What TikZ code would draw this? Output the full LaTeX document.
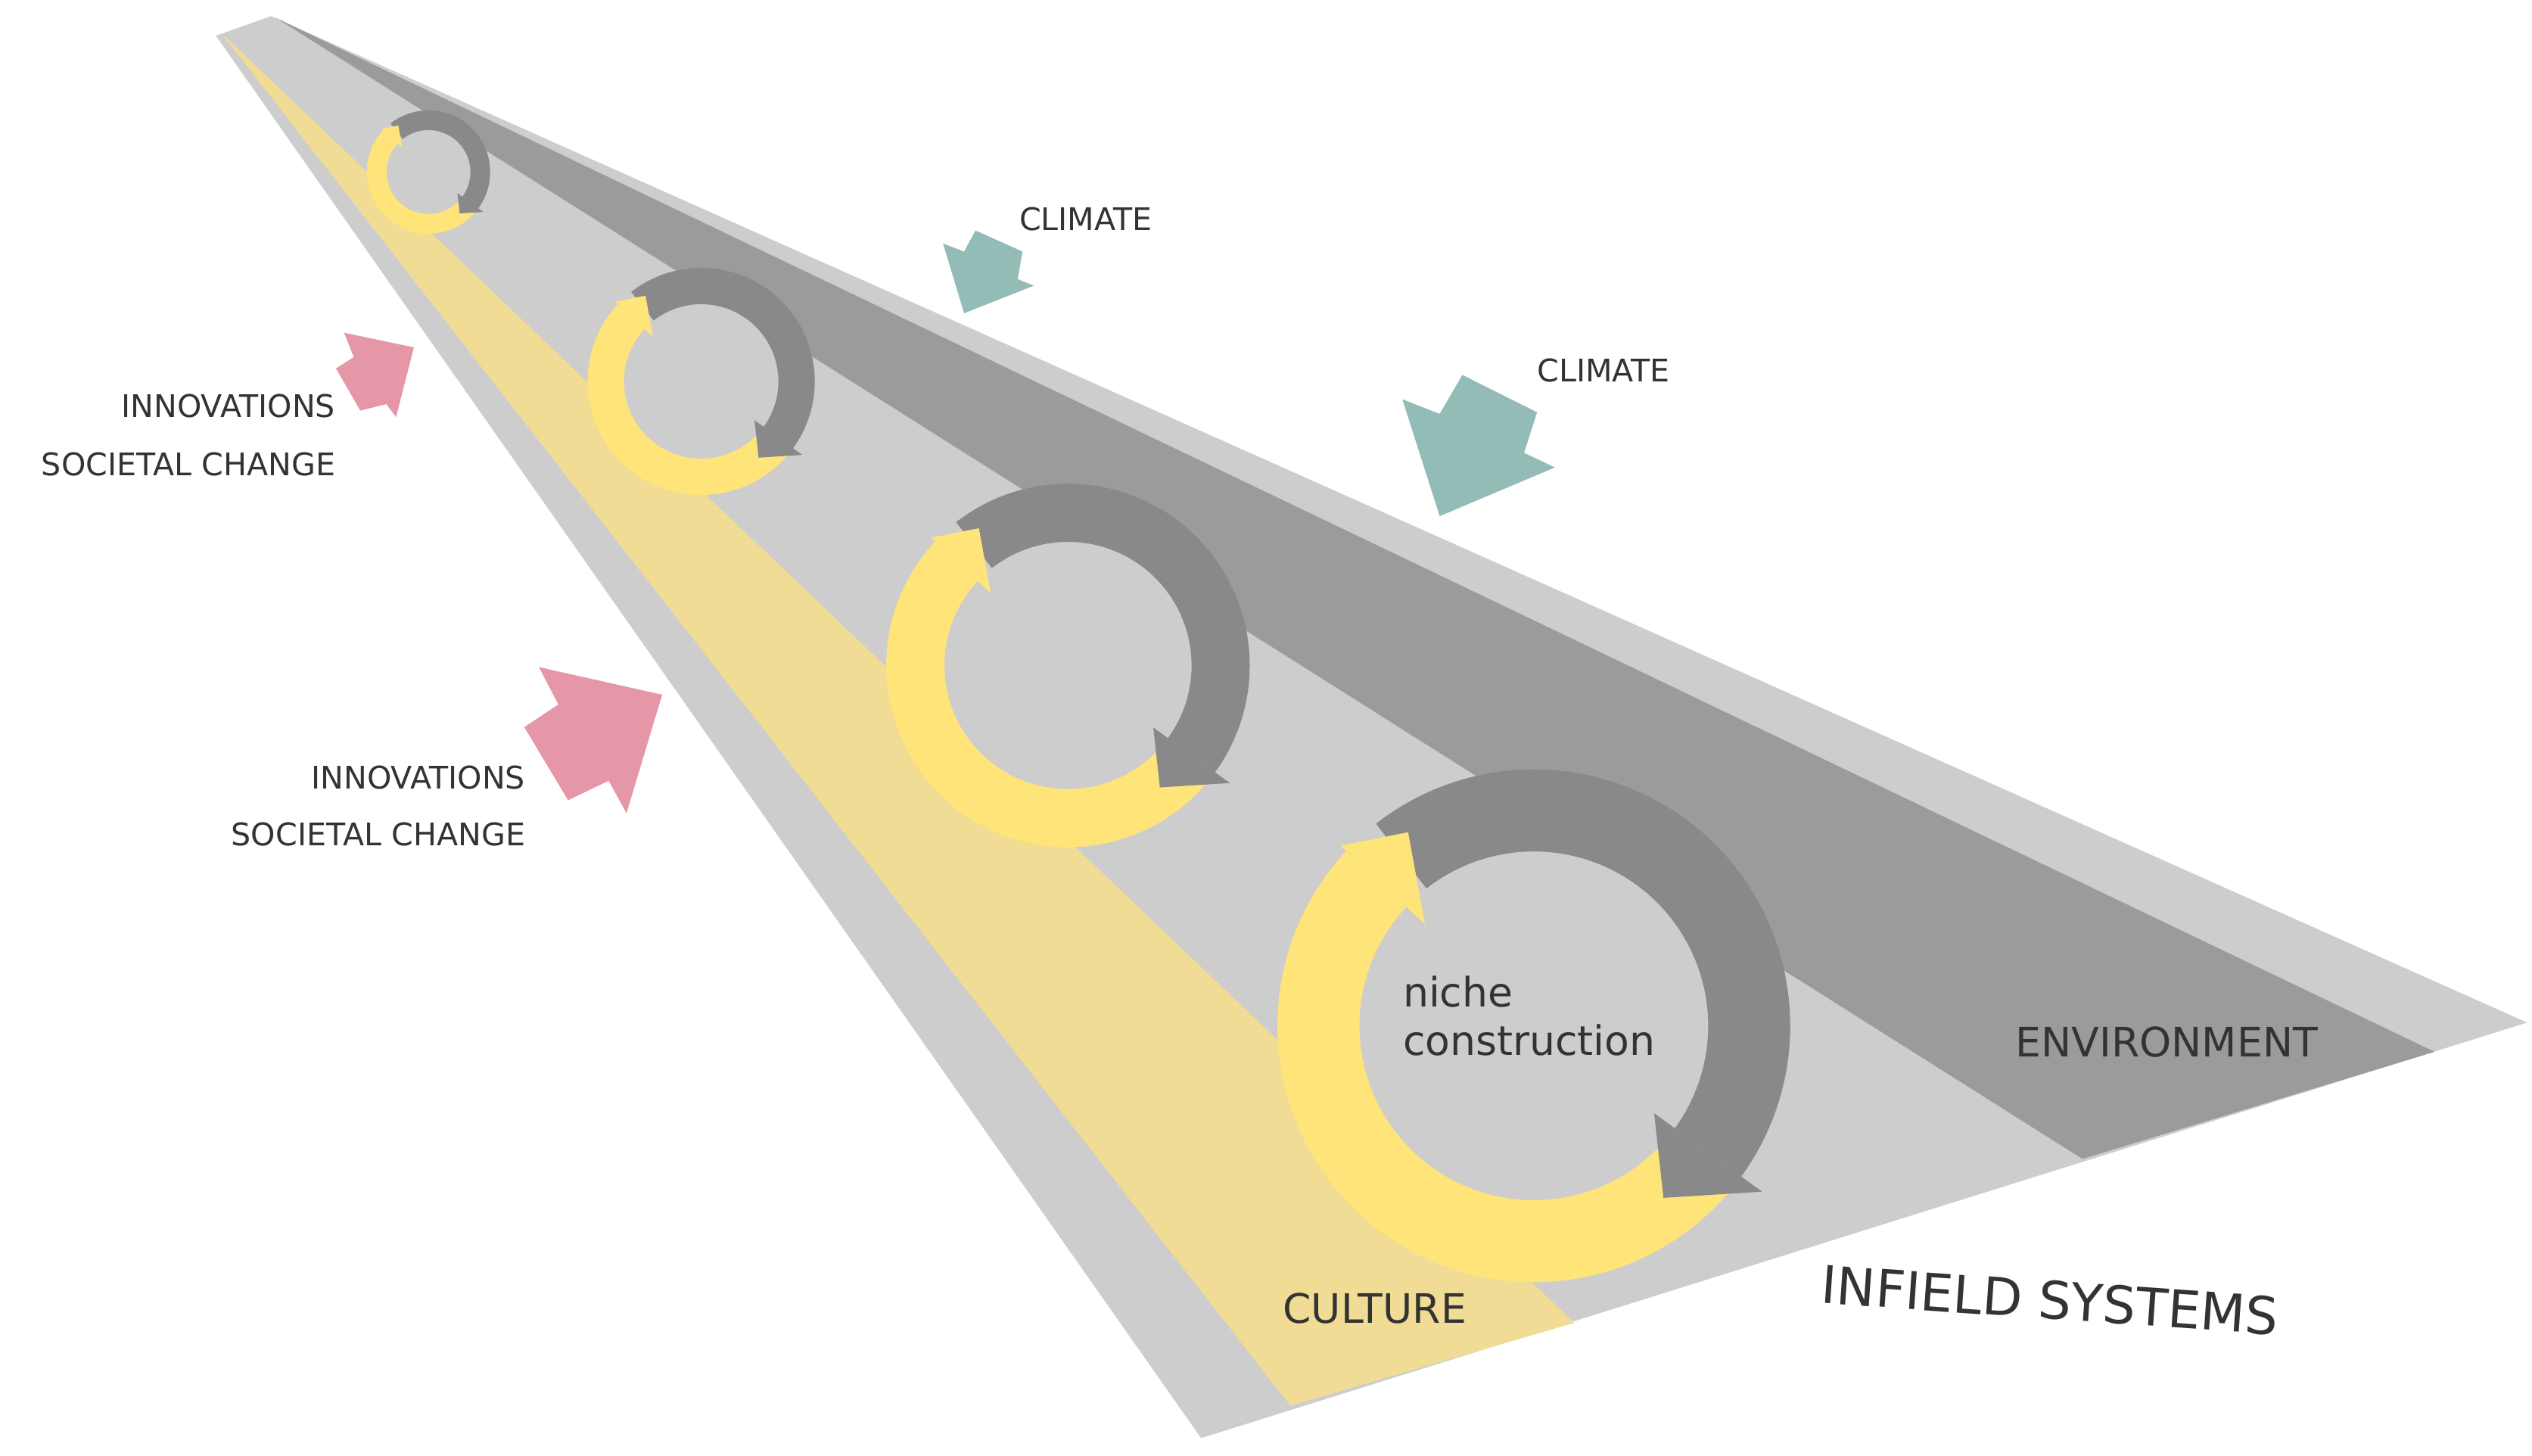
\documentclass[tikz,border=0pt]{standalone}
\usepackage{fontspec}
\setmainfont{DejaVu Sans}
\begin{document}
\definecolor{lgray}{HTML}{CDCDCD}
\definecolor{dgray}{HTML}{9B9B9B}
\definecolor{yband}{HTML}{F0DC94}
\definecolor{ringY}{HTML}{FFE47A}
\definecolor{ringG}{HTML}{898989}
\definecolor{teal}{HTML}{93BCB7}
\definecolor{pink}{HTML}{E597A8}
\definecolor{txt}{HTML}{333333}
\newcommand\ringarr[3]{%
 \pgfmathsetmacro\rI{0.68*#3}\pgfmathsetmacro\hW{0.1*#3}\pgfmathsetmacro\rM{0.84*#3}%
 \fill[lgray] (#1,#2) circle[radius=\rI];
 \fill[ringY] plot[domain=-40:-223,samples=80] ({#1+#3*cos(\x)},{#2-#3*sin(\x)}) -- plot[domain=-223:-40,samples=80] ({#1+\rI*cos(\x)},{#2-\rI*sin(\x)}) -- cycle;
 \fill[ringG] plot[domain=128:-36,samples=80] ({#1+#3*cos(\x)},{#2-#3*sin(\x)}) -- plot[domain=-36:128,samples=80] ({#1+\rI*cos(\x)},{#2-\rI*sin(\x)}) -- cycle;
 \fill[ringG] ({#1+(#3+\hW)*cos(-36)},{#2-(#3+\hW)*sin(-36)}) -- ({#1+(\rI-\hW)*cos(-36)},{#2-(\rI-\hW)*sin(-36)}) -- ({#1+\rM*cos(-53)},{#2-\rM*sin(-53)}) -- cycle;
 \fill[ringY] ({#1+(#3+0.03*#3)*cos(137)},{#2-(#3+0.03*#3)*sin(137)}) -- ({#1+(\rI-\hW)*cos(137)},{#2-(\rI-\hW)*sin(137)}) -- ({#1+0.9*#3*cos(123)},{#2-0.9*#3*sin(123)}) -- cycle;
}
\begin{tikzpicture}[x=0.5pt,y=-0.5pt,
  lab/.style={text=txt,font=\fontsize{9.6}{11}\selectfont,inner sep=0pt},
  big/.style={text=txt,font=\fontsize{12.5}{15}\selectfont,inner sep=0pt}]
\useasboundingbox (0,0) rectangle (1560,897);
% bands
\fill[lgray] (133,22) -- (167,10) -- (1557,630) -- (740,886) -- cycle;
\fill[dgray] (170,11) -- (1500,648) -- (1283,714) -- cycle;
\fill[yband] (136,20) -- (970,815) -- (795,866) -- cycle;
% rings
\ringarr{264}{106}{38}
\ringarr{432}{235}{70}
\ringarr{658}{410}{112}
\ringarr{945}{632}{158}
% pink arrows
\fill[pink] (212,205) -- (255,214) -- (244,257) -- (238,249) -- (222,253) -- (207,227) -- (218,220) -- cycle;
\fill[pink] (332,411) -- (408,428) -- (386,501) -- (375,481) -- (350,493) -- (323,448) -- (344,434) -- cycle;
% teal arrows
\fill[teal] (581,150) -- (594,193) -- (637,176) -- (627,172) -- (630,155) -- (601,142) -- (594,155) -- cycle;
\fill[teal] (864,246) -- (887,318) -- (958,288) -- (939,279) -- (947,254) -- (901,231) -- (887,255) -- cycle;
% texts
\node[lab] (c1) at (669,135) {CLIMATE};
\node[lab] (c2) at (988,228) {CLIMATE};
\node[lab,anchor=east] (i1) at (207,250) {INNOVATIONS};
\node[lab,anchor=east] (s1) at (207,286) {SOCIETAL CHANGE};
\node[lab,anchor=east] (i2) at (324,479) {INNOVATIONS};
\node[lab,anchor=east] (s2) at (324,514) {SOCIETAL CHANGE};
\node[big,anchor=west,align=left] (nc) at (864,626) {niche\\construction};
\node[big] (env) at (1335,642) {ENVIRONMENT};
\node[big] (cul) at (847,806) {CULTURE};
\node[text=txt,font=\fontsize{16}{19}\selectfont,inner sep=0pt,rotate=-4] (inf) at (1263,801) {INFIELD SYSTEMS};
\end{tikzpicture}
\end{document}
